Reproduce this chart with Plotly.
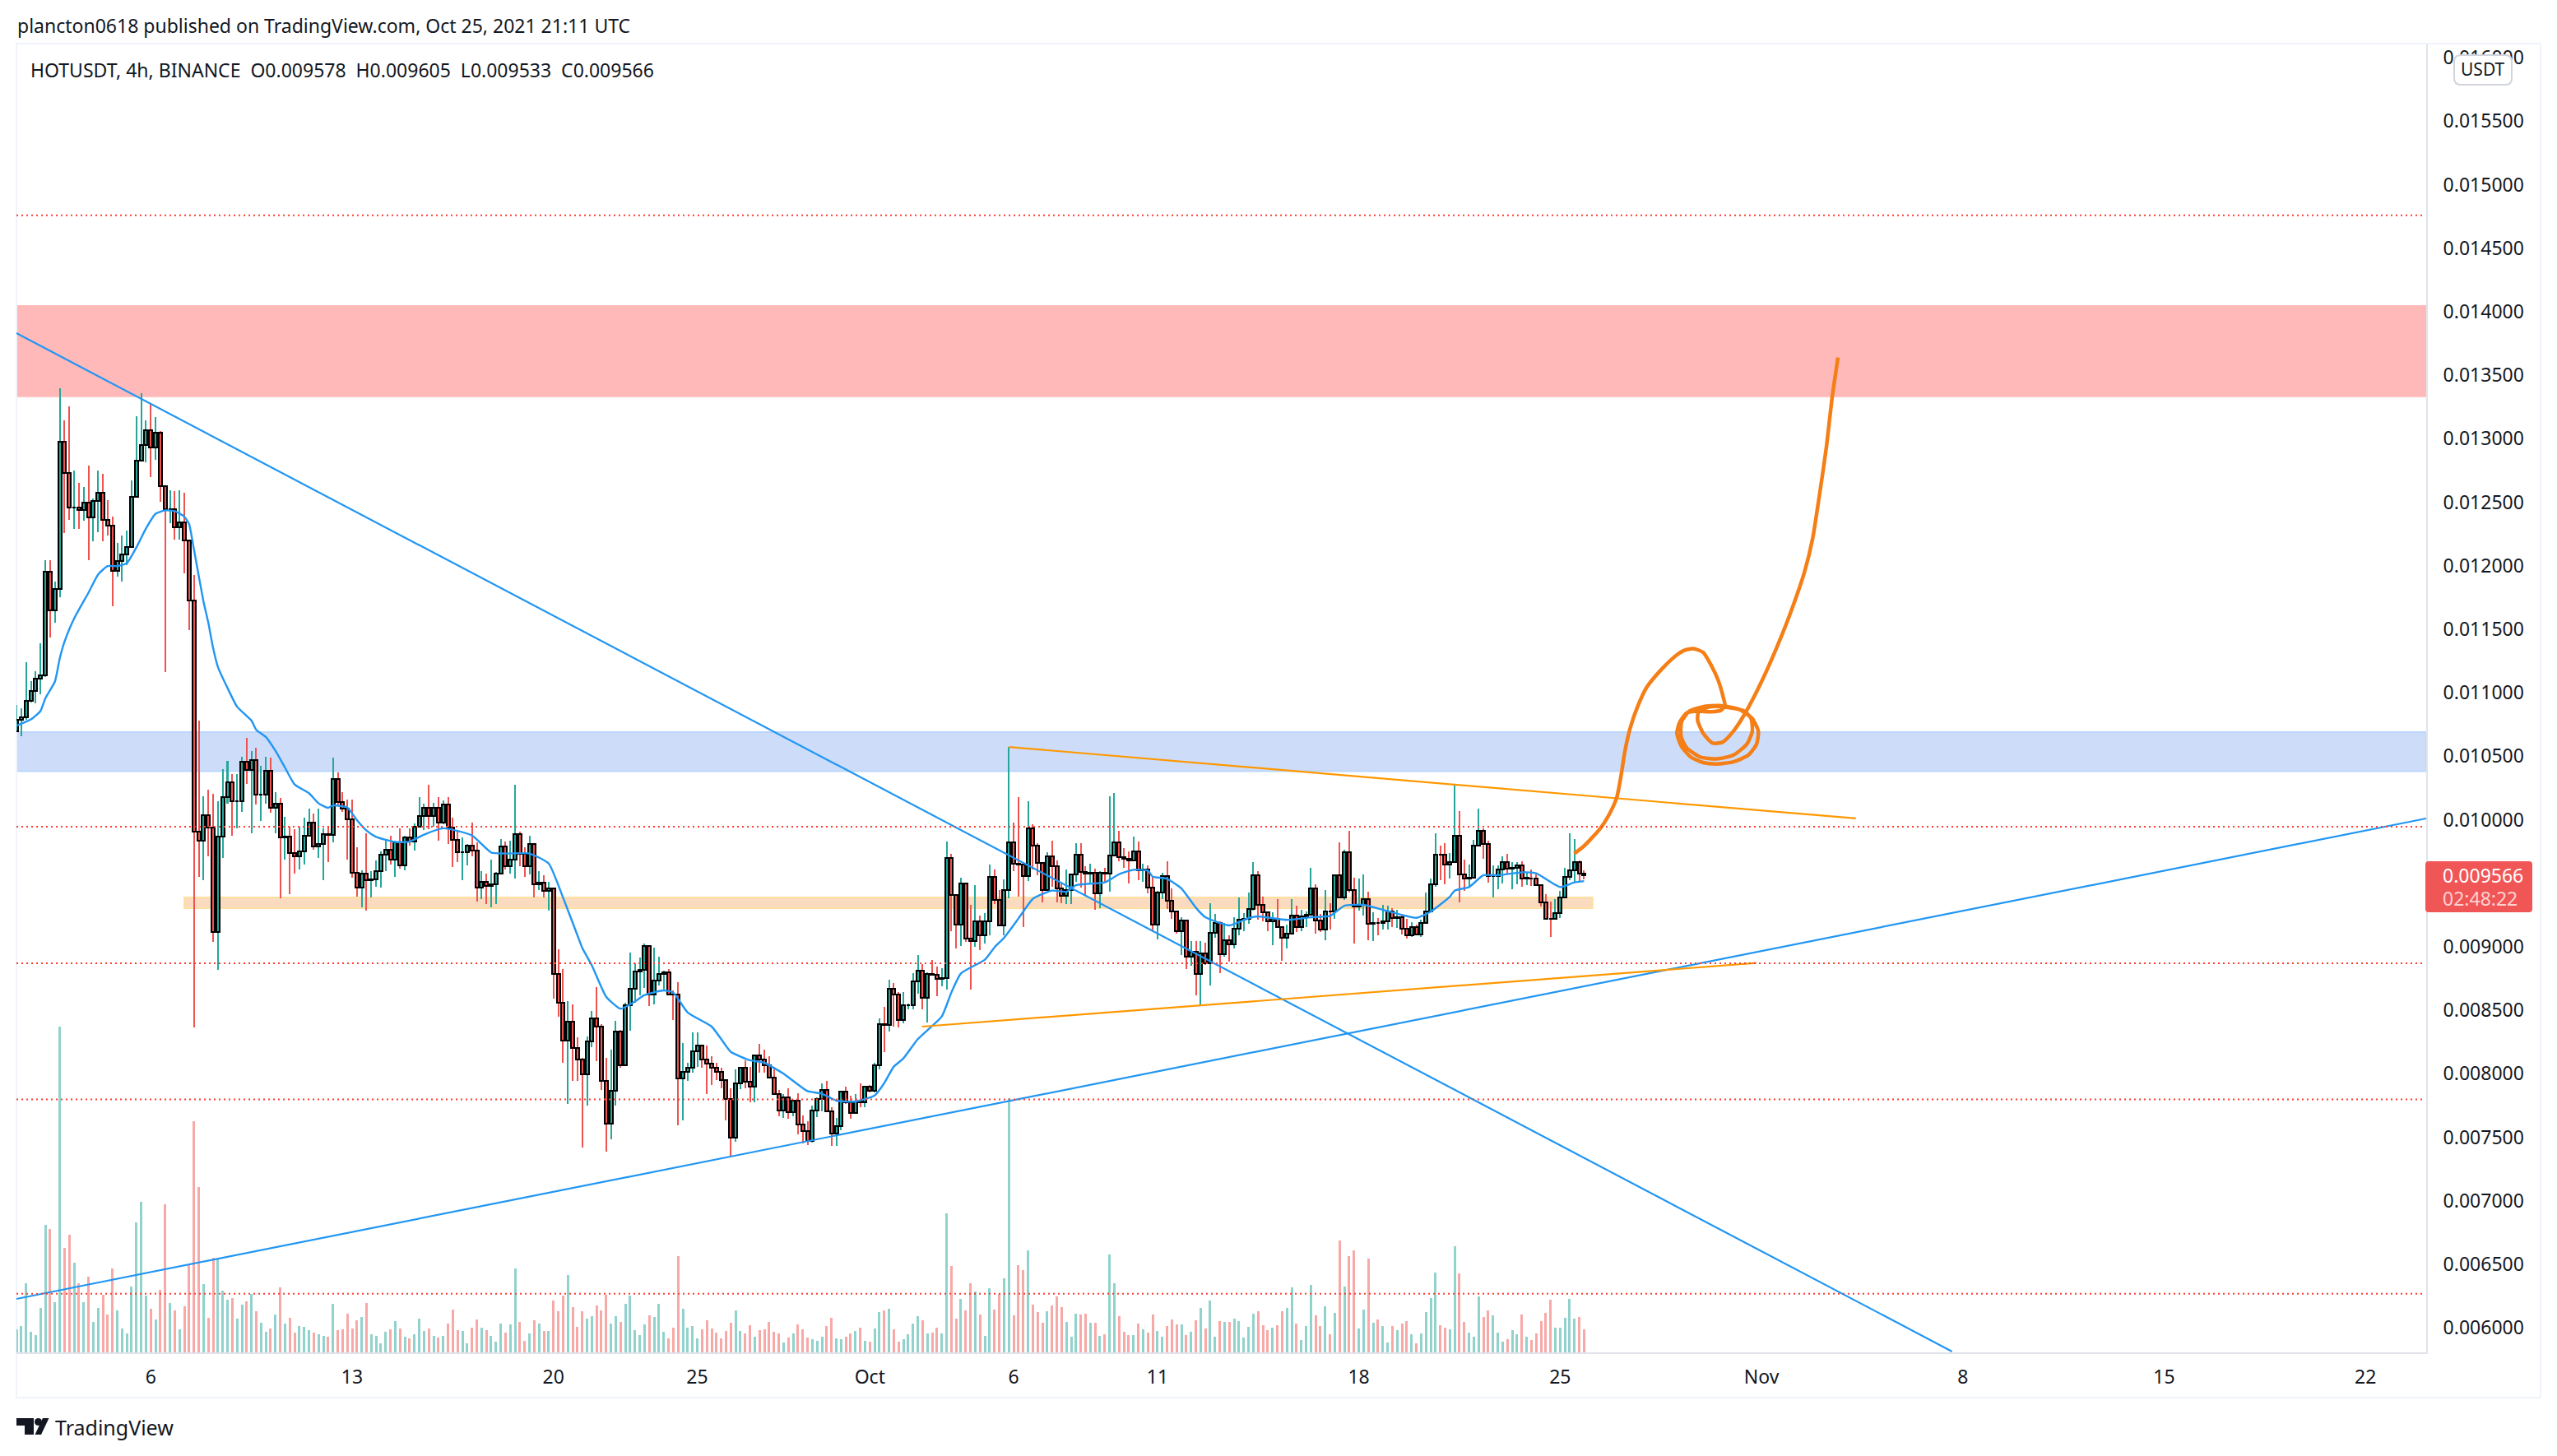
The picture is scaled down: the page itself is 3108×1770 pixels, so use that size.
import numpy as np
import pandas as pd
import plotly.graph_objects as go

# prices are in millionths of USDT
first_open = 10698
closes = [
    10790, 10807, 10933, 11015, 11111, 11134, 11954, 11650, 11815, 12978,
    12730, 12459, 12459, 12436, 12496, 12383, 12509, 12575, 12360, 12317,
    11957, 12036, 12089, 12145, 12542, 12826, 12952, 13067, 12932, 13048,
    12625, 12443, 12443, 12304, 12344, 12202, 11726, 9908, 9832, 10037,
    9941, 9118, 9868, 10179, 10295, 10146, 10146, 10460, 10394, 10470,
    10195, 10195, 10387, 10093, 10129, 9858, 9865, 9739, 9713, 9749,
    9875, 9977, 9792, 9806, 9888, 9881, 10318, 10139, 10090, 10004,
    9581, 9468, 9574, 9525, 9528, 9594, 9726, 9762, 9683, 9822,
    9640, 9858, 9829, 9945, 10032, 10094, 10027, 10094, 9977, 10119,
    9940, 9841, 9742, 9742, 9796, 9754, 9467, 9511, 9481, 9491,
    9578, 9791, 9635, 9685, 9888, 9734, 9635, 9811, 9491, 9504,
    9437, 9462, 8785, 8557, 8259, 8408, 8202, 8111, 7994, 8254,
    8435, 8371, 7942, 7607, 7868, 8334, 8066, 8537, 8666, 8807,
    8817, 9003, 8624, 8735, 8787, 8797, 8626, 8624, 7962, 8016,
    8048, 8177, 8222, 8115, 8081, 8044, 8016, 7947, 7798, 7498,
    7925, 8048, 7937, 7895, 8143, 8111, 8068, 7967, 7838, 7709,
    7813, 7697, 7788, 7602, 7548, 7471, 7709, 7801, 7875, 7702,
    7528, 7585, 7858, 7776, 7694, 7781, 7776, 7895, 7863, 8068,
    8390, 8386, 8671, 8621, 8423, 8541, 8541, 8729, 8811, 8600,
    8783, 8779, 8747, 8751, 9701, 9409, 9174, 9498, 9066, 9045,
    9200, 9088, 9200, 9550, 9366, 9168, 9444, 9822, 9653, 9647,
    9556, 9934, 9794, 9660, 9448, 9712, 9636, 9459, 9401, 9448,
    9567, 9727, 9589, 9578, 9582, 9420, 9584, 9574, 9718, 9822,
    9703, 9692, 9679, 9751, 9599, 9606, 9463, 9174, 9427, 9556,
    9362, 9276, 9124, 9207, 8919, 8963, 8786, 8947, 8872, 9109,
    9189, 8941, 9049, 9017, 9142, 9213, 9222, 9297, 9563, 9330,
    9271, 9200, 9222, 9157, 9071, 9103, 9248, 9157, 9239, 9252,
    9459, 9207, 9135, 9278, 9276, 9561, 9388, 9746, 9448, 9314,
    9330, 9373, 9183, 9189, 9187, 9200, 9280, 9226, 9235, 9142,
    9092, 9157, 9096, 9189, 9280, 9494, 9725, 9722, 9647, 9669,
    9876, 9571, 9535, 9546, 9798, 9913, 9811, 9556, 9556, 9610,
    9669, 9617, 9621, 9640, 9539, 9539, 9537, 9485, 9351, 9222,
    9220, 9265, 9390, 9552, 9604, 9669, 9578, 9566,
]
highs = [
    10906, 10880, 11243, 11094, 11170, 11392, 12043, 12043, 11874, 13398,
    13147, 13256, 12750, 12651, 12618, 12790, 12532, 12750, 12724, 12516,
    12387, 12178, 12235, 12278, 12674, 13177, 13358, 13144, 13282, 13170,
    13061, 12621, 12592, 12585, 12592, 12575, 12192, 11927, 10780, 10186,
    10235, 10205, 10146, 10400, 10463, 10361, 10361, 10493, 10642, 10539,
    10569, 10427, 10493, 10486, 10215, 10169, 10024, 9948, 9924, 9948,
    10014, 10090, 10047, 10090, 9931, 9948, 10490, 10374, 10219, 10159,
    10162, 9782, 9600, 9891, 9594, 9680, 9749, 9842, 9875, 9832,
    9931, 9875, 9933, 9970, 10178, 10126, 10275, 10131, 10176, 10151,
    10180, 10019, 9908, 9858, 9809, 9975, 9821, 9598, 9573, 9685,
    9590, 9851, 9828, 9833, 10275, 9908, 9784, 9871, 9816, 9593,
    9561, 9511, 9462, 8978, 8822, 8569, 8549, 8284, 8123, 8296,
    8495, 8681, 8388, 8123, 8190, 8415, 8346, 8557, 8953, 8867,
    8916, 9028, 9003, 8991, 8921, 8812, 8824, 8656, 8718, 8242,
    8086, 8326, 8326, 8227, 8222, 8140, 8086, 8048, 7949, 7887,
    8036, 8053, 8103, 8053, 8153, 8234, 8190, 8135, 8053, 7875,
    7838, 7887, 7796, 7845, 7672, 7627, 7751, 7813, 7925, 7942,
    7739, 7652, 7863, 7895, 7825, 7838, 7925, 7905, 7912, 8086,
    8434, 8526, 8740, 8714, 8643, 8643, 8552, 8790, 8934, 8865,
    8801, 8898, 8844, 8833, 9826, 9729, 9416, 9541, 9502, 9330,
    9485, 9243, 9265, 9647, 9606, 9448, 9528, 10573, 9977, 10176,
    9647, 10146, 9962, 9815, 9664, 9744, 9837, 9681, 9502, 9606,
    9571, 9815, 9815, 9632, 9653, 9615, 9593, 9621, 10182, 10210,
    9913, 9777, 9751, 9865, 9826, 9653, 9643, 9556, 9442, 9582,
    9671, 9459, 9276, 9232, 9211, 9045, 9045, 9042, 9034, 9340,
    9258, 9200, 9189, 9088, 9232, 9388, 9265, 9427, 9664, 9593,
    9394, 9276, 9269, 9373, 9161, 9174, 9377, 9323, 9291, 9276,
    9621, 9491, 9260, 9446, 9340, 9567, 9822, 9761, 9913, 9546,
    9535, 9567, 9433, 9271, 9228, 9330, 9323, 9301, 9291, 9254,
    9217, 9194, 9174, 9211, 9427, 9535, 9891, 9794, 9815, 9740,
    10275, 10068, 9686, 9649, 9843, 10085, 9934, 9837, 9643, 9643,
    9712, 9729, 9664, 9664, 9671, 9589, 9606, 9567, 9485, 9412,
    9355, 9373, 9442, 9621, 9891, 9848, 9679, 9605,
]
lows = [
    10691, 10658, 10784, 10923, 10916, 10989, 11121, 11435, 11551, 11755,
    12258, 12360, 12291, 12291, 12354, 12046, 12192, 12261, 12195, 12238,
    11683, 11914, 11878, 12003, 12145, 12549, 12823, 12813, 12697, 12833,
    12502, 11160, 12337, 12205, 12205, 11937, 11491, 8364, 9548, 9521,
    9710, 9039, 8821, 9700, 10129, 9872, 9931, 10063, 10285, 9891,
    10123, 9991, 10129, 10053, 9891, 9379, 9683, 9412, 9574, 9607,
    9650, 9865, 9766, 9700, 9521, 9667, 9819, 10113, 10063, 9683,
    9541, 9396, 9310, 9287, 9389, 9475, 9468, 9594, 9650, 9551,
    9617, 9600, 9796, 9759, 9945, 9920, 9928, 9945, 9833, 9965,
    9809, 9628, 9667, 9524, 9643, 9714, 9357, 9375, 9338, 9313,
    9338, 9578, 9610, 9578, 9536, 9635, 9548, 9568, 9387, 9444,
    9387, 9283, 8594, 8450, 8086, 7763, 7942, 7942, 7421, 7751,
    8210, 8098, 7875, 7389, 7486, 7751, 8049, 8061, 8341, 8557,
    8619, 8676, 8532, 8544, 8698, 8656, 8619, 8425, 7595, 7635,
    7944, 8011, 8053, 8048, 7843, 7912, 7949, 7887, 7635, 7349,
    7466, 7880, 7887, 7776, 7776, 8009, 8009, 7962, 7838, 7664,
    7652, 7647, 7664, 7523, 7449, 7441, 7459, 7659, 7702, 7697,
    7429, 7434, 7553, 7763, 7644, 7689, 7739, 7739, 7850, 7855,
    8034, 8170, 8332, 8369, 8364, 8395, 8509, 8509, 8628, 8509,
    8401, 8773, 8613, 8686, 8665, 9124, 8988, 9006, 9038, 8665,
    9001, 8973, 9023, 9092, 9336, 9161, 9092, 9384, 9595, 9394,
    9157, 9520, 9610, 9561, 9351, 9448, 9474, 9351, 9340, 9336,
    9336, 9513, 9463, 9405, 9502, 9293, 9301, 9502, 9431, 9718,
    9675, 9621, 9496, 9675, 9524, 9513, 9420, 9114, 9055, 9373,
    9297, 9222, 9103, 8934, 8822, 8850, 8617, 8541, 8855, 8693,
    9071, 8794, 8919, 8881, 8984, 9092, 9124, 9178, 9286, 9211,
    9200, 9120, 9012, 9153, 8891, 8984, 9114, 9118, 9124, 9157,
    9243, 9103, 9114, 9053, 9135, 9222, 9384, 9368, 9427, 9027,
    9286, 9243, 9049, 9045, 9088, 9135, 9135, 9157, 9146, 9096,
    9066, 9079, 9088, 9079, 9189, 9276, 9470, 9524, 9491, 9535,
    9664, 9351, 9438, 9468, 9535, 9794, 9692, 9502, 9390, 9455,
    9498, 9578, 9455, 9491, 9470, 9487, 9481, 9481, 9319, 9222,
    9079, 9217, 9228, 9384, 9524, 9513, 9502, 9533,
]
volumes = [
    84, 96, 252, 75, 63, 162, 465, 450, 183, 1188,
    381, 429, 327, 252, 183, 276, 111, 162, 209, 138,
    306, 153, 87, 69, 240, 474, 549, 207, 159, 120,
    228, 540, 180, 153, 84, 168, 319, 843, 603, 249,
    126, 345, 339, 225, 192, 198, 123, 174, 186, 213,
    150, 108, 75, 87, 138, 237, 105, 126, 72, 96,
    93, 81, 72, 66, 60, 57, 177, 81, 84, 141,
    87, 117, 129, 180, 66, 60, 33, 75, 84, 114,
    87, 57, 51, 66, 123, 78, 87, 60, 54, 60,
    105, 156, 81, 78, 33, 90, 120, 90, 81, 60,
    39, 105, 72, 102, 306, 111, 42, 69, 117, 105,
    78, 78, 189, 150, 207, 282, 165, 93, 150, 123,
    132, 171, 153, 210, 105, 132, 111, 177, 207, 81,
    63, 102, 135, 129, 177, 75, 51, 90, 351, 159,
    90, 96, 51, 84, 117, 87, 72, 51, 78, 108,
    153, 78, 69, 99, 57, 81, 84, 111, 75, 69,
    36, 54, 69, 102, 84, 54, 48, 42, 57, 96,
    126, 51, 48, 57, 69, 78, 90, 42, 39, 87,
    147, 153, 159, 84, 39, 48, 66, 105, 132, 117,
    69, 72, 90, 69, 507, 315, 123, 195, 153, 252,
    222, 138, 60, 234, 156, 213, 270, 927, 135, 318,
    300, 372, 174, 147, 108, 150, 171, 204, 165, 111,
    57, 141, 138, 141, 108, 108, 60, 66, 357, 252,
    132, 75, 63, 63, 105, 84, 72, 138, 78, 57,
    96, 120, 102, 102, 63, 75, 117, 162, 87, 189,
    57, 114, 111, 111, 123, 114, 54, 93, 141, 150,
    99, 81, 90, 99, 150, 162, 237, 105, 45, 96,
    246, 135, 96, 168, 66, 144, 408, 240, 351, 372,
    87, 156, 342, 108, 120, 96, 36, 96, 81, 105,
    114, 66, 33, 69, 147, 198, 291, 99, 90, 84,
    387, 288, 111, 72, 57, 204, 129, 153, 135, 72,
    39, 48, 81, 66, 138, 57, 45, 69, 114, 144,
    192, 90, 90, 126, 195, 123, 129, 84,
]

# moving average, read at these bars
ma_bars = [
    0, 3, 5, 6, 8, 9, 10, 12, 15, 17, 19, 21, 23, 25, 27, 29, 31, 33, 35, 36,
    37, 39, 40, 41, 42, 44, 46, 49, 50, 52, 54, 56, 58, 61, 63, 65, 66, 69, 71, 73,
    75, 79, 82, 85, 89, 95, 99, 102, 107, 111, 114, 117, 118, 120, 123, 126, 129, 131, 135, 137,
    140, 145, 147, 149, 153, 156, 160, 162, 165, 168, 171, 175, 179, 181, 183, 185, 188, 193, 195, 197,
    202, 204, 206, 209, 212, 216, 219, 221, 227, 230, 233, 236, 237, 240, 243, 246, 248, 253, 257, 259,
    265, 270, 274, 277, 281, 285, 292, 295, 299, 300, 303, 306, 309, 314, 317, 322, 325, 327,
]
ma_values = [
    10741, 10790, 10857, 10956, 11088, 11270, 11402, 11584, 11788, 11931, 11997, 11997, 12020, 12145, 12294, 12410, 12436, 12430, 12387, 12327,
    12129, 11716, 11551, 11352, 11203, 11038, 10890, 10780, 10708, 10652, 10543, 10410, 10278, 10209, 10129, 10093, 10113, 10096, 9997, 9915,
    9865, 9825, 9828, 9883, 9933, 9876, 9742, 9734, 9734, 9655, 9387, 9090, 8991, 8854, 8606, 8512, 8569, 8619, 8656, 8639,
    8482, 8371, 8272, 8172, 8106, 8086, 8000, 7944, 7863, 7843, 7788, 7781, 7829, 7926, 8056, 8121, 8272, 8451, 8639, 8790,
    8898, 8995, 9071, 9222, 9377, 9442, 9433, 9485, 9507, 9571, 9606, 9599, 9552, 9535, 9459, 9308, 9232, 9168, 9226, 9239,
    9211, 9232, 9243, 9323, 9330, 9291, 9228, 9276, 9394, 9442, 9470, 9563, 9563, 9586, 9578, 9470, 9507, 9517,
]

# freehand arrow: days after Sep 6, price
brush_days = [
    49.49, 49.82, 50.39, 50.68, 50.97, 51.13, 51.25, 51.44, 51.68, 52.01, 52.54, 53.01, 53.30, 53.63, 53.97, 54.25, 54.49, 54.68, 54.73, 54.59,
    54.25, 53.78, 53.40, 53.16, 53.06, 53.21, 53.54, 53.97, 54.44, 55.02, 55.54, 55.83, 55.89, 55.68, 55.21, 54.54, 53.97, 53.49, 53.22, 53.21,
    53.40, 53.87, 54.44, 55.02, 55.49, 55.68, 55.64, 55.40, 54.83, 54.25, 53.82, 53.78, 53.97, 54.30, 54.64, 55.02, 55.40, 55.97, 56.54, 57.02,
    57.50, 57.78, 58.02, 58.26, 58.45, 58.66,
]
brush_values = [
    9733, 9791, 9930, 10031, 10176, 10364, 10537, 10725, 10884, 11043, 11188, 11289, 11332, 11347, 11318, 11217, 11101, 10957, 10899, 10861,
    10850, 10855, 10841, 10769, 10682, 10581, 10494, 10450, 10439, 10456, 10508, 10595, 10696, 10797, 10870, 10899, 10890, 10855, 10769, 10653,
    10566, 10494, 10479, 10508, 10595, 10696, 10797, 10855, 10884, 10890, 10855, 10783, 10682, 10604, 10610, 10696, 10826, 11072, 11361, 11636,
    11954, 12215, 12562, 12938, 13313, 13640,
]

dotted_levels = [14760, 9945, 8870, 7797, 6267]
x_tick_dates = ["2021-09-06", "2021-09-13", "2021-09-20", "2021-09-25", "2021-10-01", "2021-10-06", "2021-10-11",
                "2021-10-18", "2021-10-25", "2021-11-01", "2021-11-08", "2021-11-15", "2021-11-22"]
x_tick_labels = ["6", "13", "20", "25", "Oct", "6", "11", "18", "25", "Nov", "8", "15", "22"]
# 0.009500 sits under the last price tag in the reference
y_ticks = [v for v in range(6000, 16001, 500) if v != 9500]

assert len(closes) == len(highs) == len(lows) == len(volumes) == 328
assert len(ma_bars) == len(ma_values) and len(brush_days) == len(brush_values)

UP = "#26a69a"
DOWN = "#ef5350"
UP_VOL = "#92d2cc"
DOWN_VOL = "#f7a9a7"
INK = "#131722"
FONT = "Noto Sans"

# plot box in page pixels
W, H = 3108, 1770
LEFT, RIGHT, TOP, BOTTOM = 20, 2949, 54, 1644
PX_PER_DAY = 34.96
DAY_MS = 86400000


def paper_x(px):
    return (px - LEFT) / (RIGHT - LEFT)


def paper_y(py):
    return (BOTTOM - py) / (BOTTOM - TOP)


def poly(points):
    return "M " + " L ".join(f"{paper_x(x)},{paper_y(y)}" for x, y in points) + " Z"


def round_rect(x0, y0, x1, y1, r):
    a, b, c, d = paper_x(x0), paper_x(x1), paper_y(y0), paper_y(y1)
    rx, ry = r / (RIGHT - LEFT), r / (BOTTOM - TOP)
    return (f"M {a + rx},{c} L {b - rx},{c} Q {b},{c} {b},{c - ry} L {b},{d + ry} Q {b},{d} {b - rx},{d} "
            f"L {a + rx},{d} Q {a},{d} {a},{d + ry} L {a},{c - ry} Q {a},{c} {a + rx},{c} Z")


def text_at(px, py, text, size=23, color=INK, anchor="left"):
    return dict(x=paper_x(px), y=paper_y(py), xref="paper", yref="paper", text=text, showarrow=False,
                xanchor=anchor, yanchor="middle", borderpad=0,
                font=dict(family=FONT, size=size, color=color))


dates = pd.date_range("2021-09-01 08:00", periods=len(closes), freq="4h")
close_arr = np.array(closes) * 1e-6
open_arr = np.array([first_open] + closes[:-1]) * 1e-6
high_arr = np.array(highs) * 1e-6
low_arr = np.array(lows) * 1e-6
is_up = close_arr >= open_arr
body_low = np.minimum(open_arr, close_arr)
body_size = np.maximum(np.abs(close_arr - open_arr), 1.5e-6)
brush_x = pd.Timestamp("2021-09-06") + pd.to_timedelta(brush_days, unit="D")
line_dates = dict(left="2021-09-01 07:54", right="2021-11-24 02:40")

fig = go.Figure()

fig.add_trace(go.Bar(
    x=dates, y=volumes, yaxis="y", width=3 / PX_PER_DAY * DAY_MS,
    marker=dict(color=[UP_VOL if u else DOWN_VOL for u in is_up], line_width=0),
    hoverinfo="skip", showlegend=False,
))
fig.add_trace(go.Bar(
    x=dates, y=high_arr - low_arr, base=low_arr, yaxis="y2", width=2 / PX_PER_DAY * DAY_MS,
    marker=dict(color=[UP if u else DOWN for u in is_up], line_width=0),
    hoverinfo="skip", showlegend=False,
))
fig.add_trace(go.Bar(
    x=dates, y=body_size, base=body_low, yaxis="y2", width=4 / PX_PER_DAY * DAY_MS,
    marker=dict(color=[UP if u else DOWN for u in is_up], line=dict(color="#000000", width=2)),
    hoverinfo="skip", showlegend=False,
))

# moving average
fig.add_trace(go.Scatter(
    x=dates[ma_bars], y=np.array(ma_values) * 1e-6, yaxis="y2", mode="lines",
    line=dict(color="#2196f3", width=2.4, shape="spline", smoothing=0.5),
    hoverinfo="skip", showlegend=False,
))

# trend lines
for xs, ys, color in [
    ([line_dates["left"], "2021-11-07 15:00"], [0.013831, 0.005813], "#2196f3"),
    ([line_dates["left"], line_dates["right"]], [0.006227, 0.010010], "#2196f3"),
    (["2021-10-05 20:00", "2021-11-04 06:45"], [0.010573, 0.010010], "#ff9800"),
    (["2021-10-02 19:30", "2021-10-31 19:40"], [0.008371, 0.008872], "#ff9800"),
]:
    fig.add_trace(go.Scatter(x=xs, y=ys, yaxis="y2", mode="lines", line=dict(color=color, width=2.2),
                             hoverinfo="skip", showlegend=False))

fig.add_trace(go.Scatter(
    x=brush_x, y=np.array(brush_values) * 1e-6, yaxis="y2", mode="lines",
    line=dict(color="#f57f17", width=4.5, shape="spline", smoothing=0.6),
    hoverinfo="skip", showlegend=False,
))

shapes = [
    # zones
    dict(type="rect", layer="below", xref="paper", x0=0, x1=1, yref="y2", y0=0.013328, y1=0.014051,
         fillcolor="#ffb9b9", line_width=0),
    dict(type="rect", layer="below", xref="paper", x0=0, x1=1, yref="y2", y0=0.010382, y1=0.010690,
         fillcolor="#cddcf8", line=dict(color="#bbd6fb", width=2)),
    dict(type="rect", layer="below", xref="x", x0="2021-09-07 04:00", x1="2021-10-26 03:00", yref="y2",
         y0=0.009304, y1=0.009388, fillcolor="#fadbbf", line=dict(color="#ffdfa0", width=2)),
    # outer frame
    dict(type="rect", layer="below", xref="paper", yref="paper", x0=0, x1=paper_x(3088), y0=paper_y(1699),
         y1=paper_y(53), line=dict(color="#f0f3fa", width=2), fillcolor="rgba(0,0,0,0)"),
    # last price tag
    dict(type="path", xref="paper", yref="paper", path=round_rect(2948, 1047, 3078, 1109, 4),
         fillcolor="#f05656", line_width=0),
    # currency button
    dict(type="path", xref="paper", yref="paper", path=round_rect(2983, 67, 3053, 103, 8),
         fillcolor="#ffffff", line=dict(color="#d1d4dc", width=2)),
    # footer logo
    dict(type="path", xref="paper", yref="paper", fillcolor=INK, line_width=0,
         path=poly([(20, 1724), (41, 1724), (41, 1744), (30, 1744), (30, 1733), (20, 1733)])),
    dict(type="path", xref="paper", yref="paper", fillcolor=INK, line_width=0,
         path=poly([(52, 1724), (59.5, 1724), (50, 1744), (42.5, 1744)])),
    dict(type="circle", xref="paper", yref="paper", fillcolor=INK, line_width=0,
         x0=paper_x(42), x1=paper_x(51), y0=paper_y(1733), y1=paper_y(1724)),
]
for level in dotted_levels:
    shapes.append(dict(type="line", layer="above", xref="paper", x0=0, x1=paper_x(2945), yref="y2",
                       y0=level * 1e-6, y1=level * 1e-6, line=dict(color="#ff3b30", width=2, dash="2px,4px")))

annotations = [
    text_at(20, 31, "plancton0618 published on TradingView.com, Oct 25, 2021 21:11 UTC"),
    text_at(36, 85, "HOTUSDT, 4h, BINANCE  O0.009578  H0.009605  L0.009533  C0.009566"),
    text_at(3018, 84, "USDT", size=21, anchor="center"),
    text_at(2968, 1064, "0.009566", color="#ffffff"),
    text_at(2968, 1092, "02:48:22", color="#fcd1d1"),
    text_at(66, 1735, "TradingView", size=25),
]

fig.update_layout(
    width=W, height=H,
    margin=dict(l=LEFT, r=W - RIGHT, t=TOP, b=H - BOTTOM, pad=0),
    paper_bgcolor="#ffffff", plot_bgcolor="#ffffff",
    barmode="overlay", bargap=0,
    showlegend=False,
    font=dict(family=FONT, size=23, color=INK),
    xaxis=dict(
        type="date", range=[line_dates["left"], line_dates["right"]],
        tickmode="array", tickvals=x_tick_dates, ticktext=x_tick_labels,
        showgrid=False, zeroline=False, showline=True, linecolor="#e0e3eb", linewidth=2,
        ticks="outside", ticklen=8, tickcolor="rgba(0,0,0,0)",
        tickfont=dict(family=FONT, size=23, color=INK),
    ),
    yaxis=dict(range=[0, 4770], visible=False, fixedrange=True),
    yaxis2=dict(
        overlaying="y", side="right", anchor="x",
        range=[0.005806, 0.016105],
        tickmode="array", tickvals=[v * 1e-6 for v in y_ticks], ticktext=[f"{v * 1e-6:.6f}" for v in y_ticks],
        showgrid=False, zeroline=False, showline=True, linecolor="#e0e3eb", linewidth=2,
        ticks="outside", ticklen=14, tickcolor="rgba(0,0,0,0)",
        tickfont=dict(family=FONT, size=23, color=INK),
    ),
    shapes=shapes,
    annotations=annotations,
)

fig.write_html("out.html", config={"displayModeBar": False},
               post_script="document.body.style.margin='0';")
